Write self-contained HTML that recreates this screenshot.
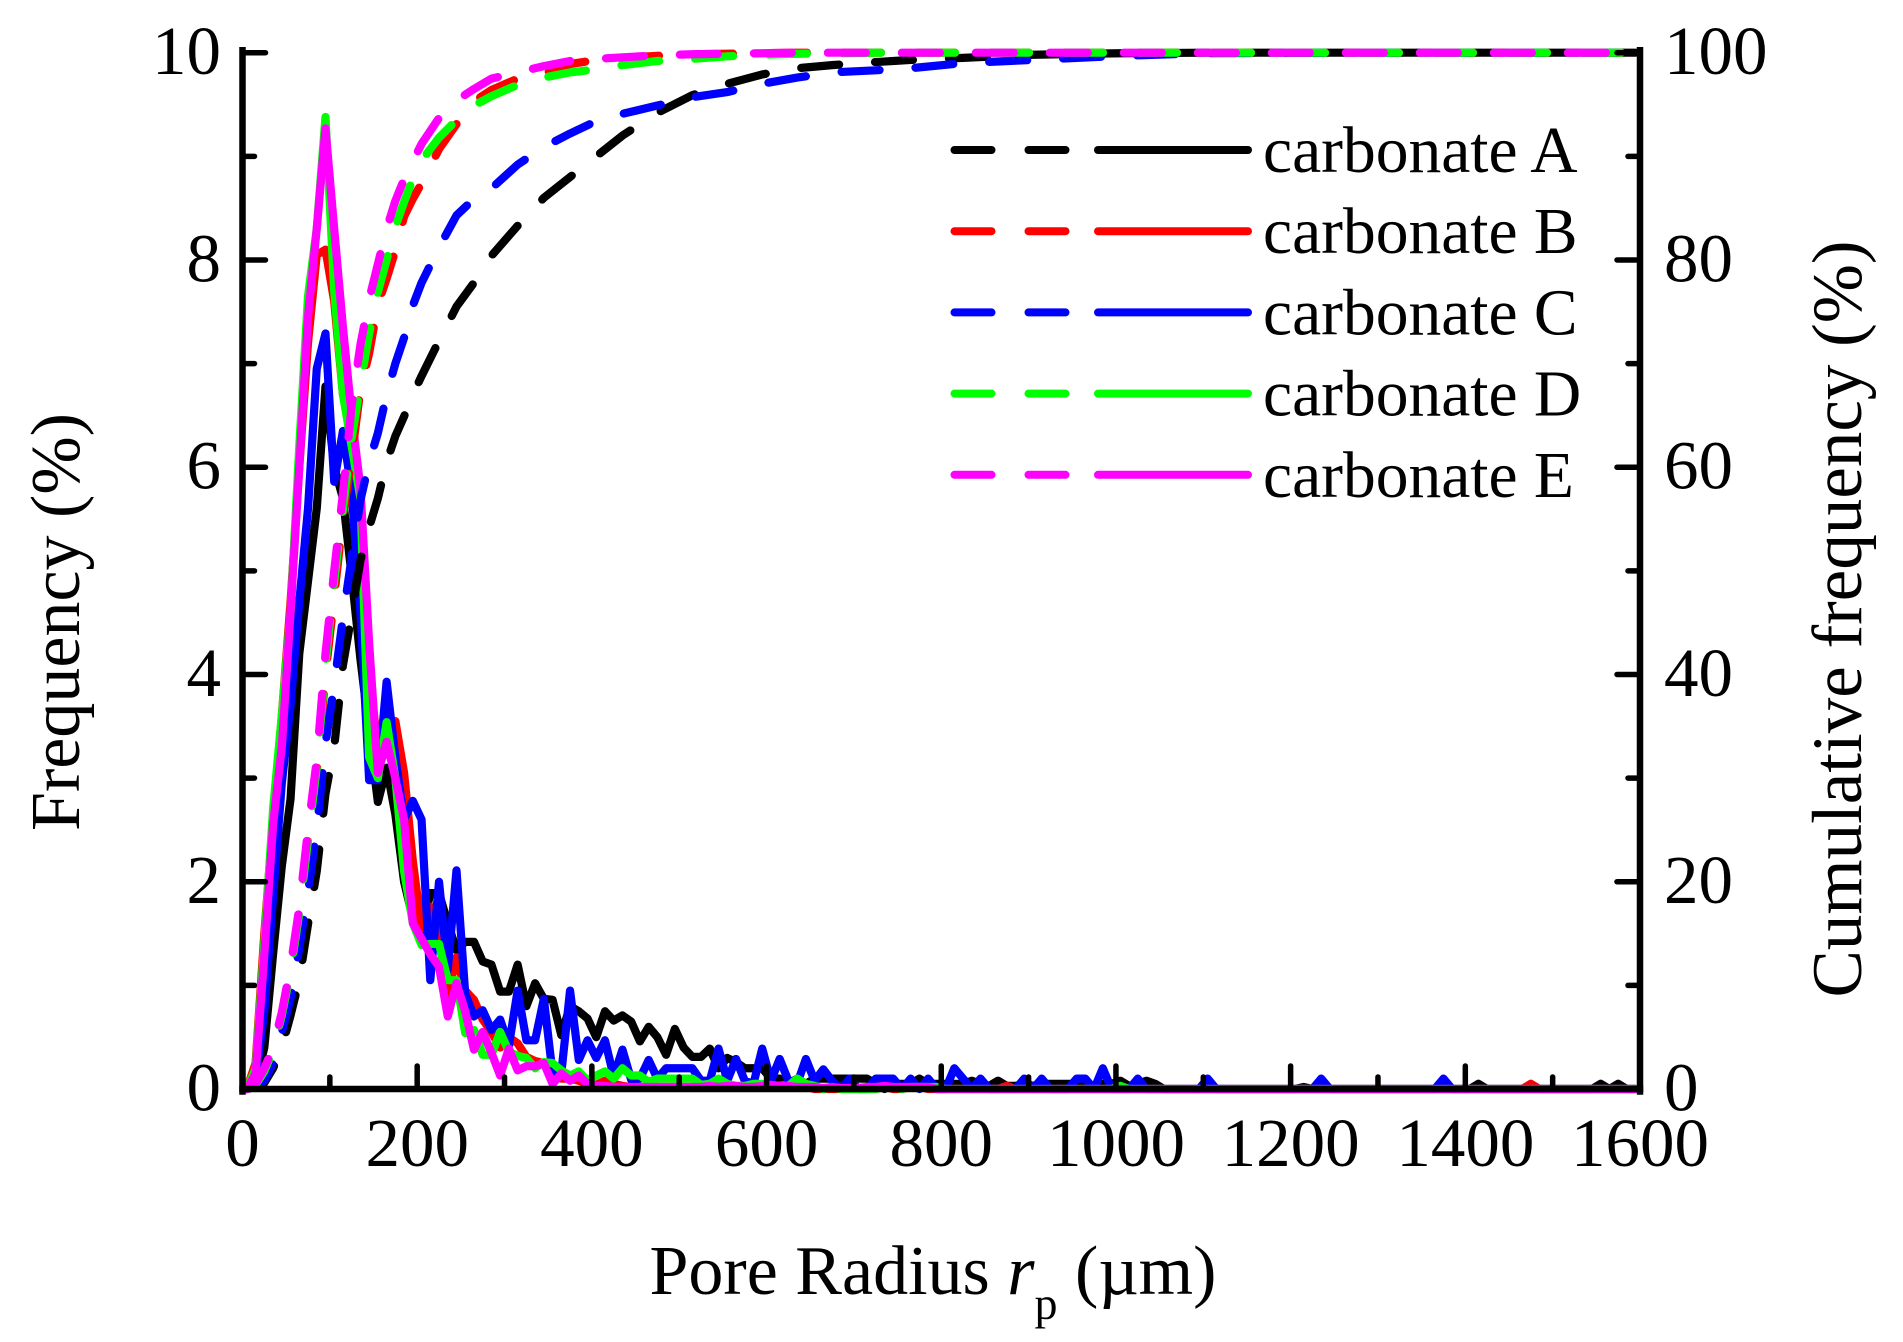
<!DOCTYPE html>
<html lang="en">
<head>
<meta charset="utf-8">
<title>Pore radius frequency chart</title>
<style>
html,body{margin:0;padding:0;background:#fff;}
svg{display:block;}
text{font-family:"Liberation Serif",serif;fill:#000;}
</style>
</head>
<body>
<svg id="chart" xmlns="http://www.w3.org/2000/svg" width="1903" height="1342" viewBox="0 0 1903 1342">
  <rect x="0" y="0" width="1903" height="1342" fill="#fff"/>
  <g id="solid-series"></g>
  <g id="dashed-series"></g>
  <g id="axes"></g>
  <g id="tick-labels" font-size="69"></g>
  <text font-size="70" text-anchor="middle" transform="translate(79 622) rotate(-90)">Frequency (%)</text>
  <text font-size="71" text-anchor="middle" transform="translate(1861 619) rotate(-90)">Cumulative frequency (%)</text>
  <text font-size="70" x="649.5" y="1294" xml:space="preserve">Pore Radius <tspan font-style="italic">r</tspan><tspan font-size="46" dy="25">p</tspan><tspan dy="-25"> (µm)</tspan></text>
  <g id="legend"></g>
</svg>
<script>
const radius = [
5,15,25,35,45,55,65,75,85,95,
105,115,125,135,145,155,165,175,185,195,
205,215,225,235,245,255,265,275,285,295,
305,315,325,335,345,355,365,375,385,395,
405,415,425,435,445,455,465,475,485,495,
505,515,525,535,545,555,565,575,585,595,
605,615,625,635,645,655,665,675,685,695,
705,715,725,735,745,755,765,775,785,795,
805,815,825,835,845,855,865,875,885,895,
905,915,925,935,945,955,965,975,985,995,
1005,1015,1025,1035,1045,1055,1065,1075,1085,1095,
1105,1115,1125,1135,1145,1155,1165,1175,1185,1195,
1205,1215,1225,1235,1245,1255,1265,1275,1285,1295,
1305,1315,1325,1335,1345,1355,1365,1375,1385,1395,
1405,1415,1425,1435,1445,1455,1465,1475,1485,1495,
1505,1515,1525,1535,1545,1555,1565,1575,1585,1595];

const freqA = [
0,.05,.4,1.3,2.15,2.8,4.2,4.9,5.6,6.78,
6,5.7,4.95,4.15,3.45,2.77,3.1,2.65,2,1.65,
1.5,1.89,1.89,1.6,1.34,1.42,1.42,1.23,1.2,.94,
.94,1.2,.8,1.02,.87,.86,.52,.8,.75,.68,
.5,.75,.66,.71,.65,.46,.6,.5,.33,.58,
.4,.31,.31,.39,.2,.3,.26,.2,.2,.2,
.1,.1,.05,.1,.05,.1,.1,.1,.1,.1,
.1,.1,.05,0,.05,.05,.05,.1,.05,.05,
.05,.05,.05,.08,.05,.03,.08,.03,.03,.05,
.03,.05,.05,.05,.05,.05,.05,.03,.05,.05,
.08,.03,.05,.08,.05,0,0,0,0,0,
0,0,0,0,0,0,0,0,0,0,
0,.02,0,0,0,0,0,0,0,0,
0,0,0,0,0,0,0,0,0,0,
0,.05,0,0,0,0,0,0,0,0,
0,0,0,0,0,.05,0,.05,0,0];

const freqB = [
0,.25,1.5,2.6,3.6,4.7,6,7.2,8.05,8.1,
7.6,6.7,6.4,5.7,4,3.3,3.3,3.55,3.05,2.2,
1.55,1.76,1.44,.92,1.27,.95,.86,.67,.55,.4,
.5,.44,.31,.27,.25,.2,.1,.1,.08,.05,
.04,.08,.05,.03,.02,.02,.02,.02,.02,.02,
.02,.02,.02,.02,.02,.02,.02,.02,.02,.02,
.02,.03,.05,.02,.02,0,0,0,0,0,
0,0,0,.02,0,0,.02,.02,0,0,
0,0,0,0,0,0,0,.03,0,0,
0,0,0,0,0,0,0,0,0,0,
0,0,0,0,0,0,0,0,0,0,
0,0,0,0,0,0,0,0,0,0,
0,0,0,0,0,0,0,0,0,0,
0,0,0,0,0,0,0,0,0,0,
0,0,0,0,0,0,0,.05,0,0,
0,0,0,0,0,0,0,0,0,0];

const freqC = [
0,.1,.75,1.85,2.95,3.7,4.7,5.6,6.95,7.29,
5.86,6.35,5.76,4.6,2.98,2.98,3.93,3.2,2.6,2.78,
2.6,1.05,2,1.15,2.11,.92,.7,.76,.57,.67,
.42,.95,.47,.47,.87,.15,.15,.95,.28,.47,
.3,.47,.12,.38,.09,.1,.28,.1,.2,.2,
.2,.2,.08,.08,.39,.08,.29,.08,.05,.39,
.08,.29,.08,.05,.29,.08,.19,.08,0,.1,
0,0,.1,.1,.1,0,.1,0,.1,0,
0,.2,.1,0,.1,0,0,0,0,.1,
0,.1,0,0,0,.1,.1,0,.2,0,
0,0,.1,0,0,0,0,0,0,0,
.1,0,0,0,0,0,0,0,0,0,
0,0,0,.1,0,0,0,0,0,0,
0,0,0,0,0,0,0,.1,0,0,
0,0,0,0,0,0,0,0,0,0,
0,0,0,0,0,0,0,0,0,0];

const freqD = [
0,.2,1.4,2.7,3.6,4.6,6.2,7.65,8.3,9.38,
7.7,6.7,6.2,5.7,3.2,3,3.54,3,2.1,1.6,
1.39,1.4,1.4,1.05,1.05,.54,.57,.33,.33,.55,
.36,.32,.3,.2,.26,.25,.18,.13,.17,.08,
.13,.17,.1,.2,.13,.13,.07,.1,.1,.1,
.1,.1,.04,.05,.1,.05,.03,.03,.05,.05,
.03,.03,.03,.1,.05,.03,0,.02,0,0,
0,0,0,.02,.02,0,.02,.02,.02,.02,
0,0,0,0,0,0,0,0,0,0,
0,0,0,0,0,0,0,0,0,0,
.03,0,0,0,0,0,0,0,0,0,
0,0,0,0,0,0,0,0,0,0,
0,0,0,0,0,0,0,0,0,0,
0,0,0,0,0,0,0,0,0,0,
0,0,0,0,0,0,0,0,0,0,
0,0,0,0,0,0,0,0,0,0];

const freqE = [
0,.15,1.3,2.55,3.3,4.6,6,7.45,8.3,9.27,
8.3,7.35,6.5,5.8,4.3,3.05,3.35,3,2.6,1.6,
1.45,1.3,1.18,.7,1.02,.75,.38,.55,.35,.13,
.39,.18,.22,.22,.25,.05,.15,.08,.13,.05,
.03,.03,.02,.02,.02,.02,.02,.02,.02,.02,
.02,.02,.02,.03,.02,.03,.03,.02,.02,.03,
.04,.03,.03,.02,.02,.02,.01,.02,.01,.01,
.01,.02,.02,.03,.02,.02,.02,.02,.02,0,
0,0,0,0,0,0,0,0,0,0,
0,0,0,0,0,0,0,0,0,0,
0,0,0,0,0,0,0,0,0,0,
0,0,0,0,0,0,0,0,0,0,
0,0,0,0,0,0,0,0,0,0,
0,0,0,0,0,0,0,0,0,0,
0,0,0,0,0,0,0,0,0,0,
0,0,0,0,0,0,0,0,0,0];

const cumRadius = [5,15,25,35,45,55,65,75,85,95,105,115,125,135,145,155,165,175,185,195,205,225,245,265,285,315,345,375,405,435,475,515,555,595,635,675,725,765,825,905,1005,1105,1245,1595];

const cumA = [0,.2,.6,2,4,7.1,10.5,15.9,21,28.5,33,40.9,45.8,51,54.2,57,60.5,63,64.9,67,68.8,72.2,75.5,77.8,80.4,83.3,86,88,90,92,94.2,95.9,97,97.9,98.5,98.8,99.1,99.3,99.5,99.8,99.95,100,100,100];
const cumB = [0,.5,1.9,4,7.2,11.5,17.2,24,30.5,40,47.5,55.2,61,67.5,71,75.7,78.2,80.9,84.2,85.9,87.4,90.7,93.1,95.3,96.4,97.5,98,98.9,99.3,99.5,99.7,99.85,99.9,99.95,100,100,100,100,100,100,100,100,100,100];
const cumC = [0,.2,.8,2.5,5.5,8.7,13.6,19,25,33.3,39,45.5,51.3,56.8,60.5,63.3,67,70,72.5,75.6,77.8,81.2,84.3,85.9,86.9,89.2,90.9,92.2,93.4,94.1,94.9,95.7,96.2,97,97.6,98.1,98.3,98.5,99,99.3,99.7,99.95,100,100];
const cumD = [0,.4,1.7,3.8,7.1,11.3,17,24,31,41,49,56,62.8,68,72.9,76.9,80,83.2,85.6,87.8,89.6,91.8,93.5,94.9,95.8,96.9,97.6,98.1,98.4,98.8,99.2,99.4,99.65,99.8,99.9,99.95,100,100,100,100,100,100,100,100];
const cumE = [0,.5,2,4,7.4,11.8,17.5,25,31.7,42,50,57.5,66,71.8,76.2,79.6,83,85.7,87.8,89.5,91.2,93.7,95.4,96.5,97.5,98.1,98.7,99.2,99.4,99.55,99.75,99.85,99.9,99.95,100,100,100,100,100,100,100,100,100,100];

const xTickValues = [0,200,400,600,800,1000,1200,1400,1600];
const xMinorValues = [100,300,500,700,900,1100,1300,1500];
const yTickValues = [0,2,4,6,8,10];
const yMinorValues = [1,3,5,7,9];
const cumTickValues = [0,20,40,60,80,100];
const legendLabels = ["carbonate A","carbonate B","carbonate C","carbonate D","carbonate E"];
const seriesKeys = ["a","b","c","d","e"];
const seriesColors = ["#000000","#ff0000","#0000ff","#00ff00","#ff00ff"];

const NS = "http://www.w3.org/2000/svg";
const plot = {left:242.5,right:1640,top:52.7,bottom:1089};
function xScale(v){return plot.left+(v/1600)*(plot.right-plot.left);}
function yFreq(v){return plot.bottom-(v/10)*(plot.bottom-plot.top);}
function yCum(v){return plot.bottom-(v/100)*(plot.bottom-plot.top);}
function pathFrom(xs,ys,fy){
  let d="";
  for(let i=0;i<xs.length;i++){d+=(i?"L":"M")+xScale(xs[i]).toFixed(2)+" "+fy(ys[i]).toFixed(2);}
  return d;
}
function mk(tag,parent){const e=document.createElementNS(NS,tag);parent.appendChild(e);return e;}
function line(parent,x1,y1,x2,y2,w,color,cap){
  const l=mk("line",parent);
  l.setAttribute("x1",x1);l.setAttribute("y1",y1);l.setAttribute("x2",x2);l.setAttribute("y2",y2);
  l.setAttribute("stroke",color);l.setAttribute("stroke-width",w);l.setAttribute("stroke-linecap",cap);
  return l;
}

const freqSeries=[freqA,freqB,freqC,freqD,freqE];
const cumSeries=[cumA,cumB,cumC,cumD,cumE];
const solidG=document.getElementById("solid-series");
const dashedG=document.getElementById("dashed-series");
const DRAW_ORDER=[0,1,2,3,4];
DRAW_ORDER.forEach(function(i){
  const p=mk("path",solidG);
  
  
  p.setAttribute("d",pathFrom(radius,freqSeries[i],yFreq));
  p.setAttribute("fill","none");p.setAttribute("stroke",seriesColors[i]);
  p.setAttribute("stroke-width","8.2");p.setAttribute("stroke-linejoin","round");p.setAttribute("stroke-linecap","round");
});
DRAW_ORDER.forEach(function(i){
  const p=mk("path",dashedG);
  
  
  p.setAttribute("d",pathFrom(cumRadius,cumSeries[i],yCum));
  p.setAttribute("fill","none");p.setAttribute("stroke",seriesColors[i]);
  p.setAttribute("stroke-width","8.2");p.setAttribute("stroke-linejoin","round");p.setAttribute("stroke-linecap","round");
  p.setAttribute("stroke-dasharray","38 36");
});

const axesG=document.getElementById("axes");
const AW=6.5,TW=5.5,MAJ=21,MIN=10;
const al=line(axesG,plot.left,plot.top-2.5,plot.left,plot.bottom+2.5,AW,"#000","square");


const ar=line(axesG,plot.right,plot.top-2.5,plot.right,plot.bottom+2.5,AW,"#000","square");


const ab=line(axesG,plot.left,plot.bottom,plot.right,plot.bottom,AW,"#000","square");



xTickValues.forEach(function(v){
  const t=line(axesG,xScale(v),plot.bottom,xScale(v),plot.bottom-MAJ-2,TW,"#000","round");
  
  
});
xMinorValues.forEach(function(v){
  const t=line(axesG,xScale(v),plot.bottom,xScale(v),plot.bottom-MIN-2,TW,"#000","round");
  
  
});
yTickValues.forEach(function(v){
  const t=line(axesG,plot.left,yFreq(v),plot.left+MAJ+2,yFreq(v),TW,"#000","round");
  
  
});
yMinorValues.forEach(function(v){
  const t=line(axesG,plot.left,yFreq(v),plot.left+MIN+2,yFreq(v),TW,"#000","round");
  
  
});
cumTickValues.forEach(function(v){
  const t=line(axesG,plot.right,yCum(v),plot.right-MAJ-2,yCum(v),TW,"#000","round");
  
  
});
yMinorValues.forEach(function(v){
  const t=line(axesG,plot.right,yFreq(v),plot.right-MIN-2,yFreq(v),TW,"#000","round");
  
  
});

const labelsG=document.getElementById("tick-labels");
xTickValues.forEach(function(v){
  const t=mk("text",labelsG);
  
  
  t.setAttribute("x",xScale(v));t.setAttribute("y",1166);t.setAttribute("text-anchor","middle");
  t.textContent=String(v);
});
yTickValues.forEach(function(v){
  const t=mk("text",labelsG);
  
  
  t.setAttribute("x",221);t.setAttribute("y",yFreq(v)+21.5);t.setAttribute("text-anchor","end");
  t.textContent=String(v);
});
cumTickValues.forEach(function(v){
  const t=mk("text",labelsG);
  
  
  t.setAttribute("x",1664);t.setAttribute("y",yCum(v)+21.5);
  t.textContent=String(v);
});

const legendG=document.getElementById("legend");
legendLabels.forEach(function(label,i){
  const y=150+i*81.2;
  const g=mk("g",legendG);
  
  
  const d=line(g,954.5,y,1095,y,8,seriesColors[i],"round");
  d.setAttribute("stroke-dasharray","37 37");
  
  
  const s=line(g,1098,y,1248,y,8,seriesColors[i],"round");
  
  
  const t=mk("text",g);
  
  
  t.setAttribute("x",1263);t.setAttribute("y",y+22);t.setAttribute("font-size","65.5");
  t.textContent=label;
});
</script>
</body>
</html>
